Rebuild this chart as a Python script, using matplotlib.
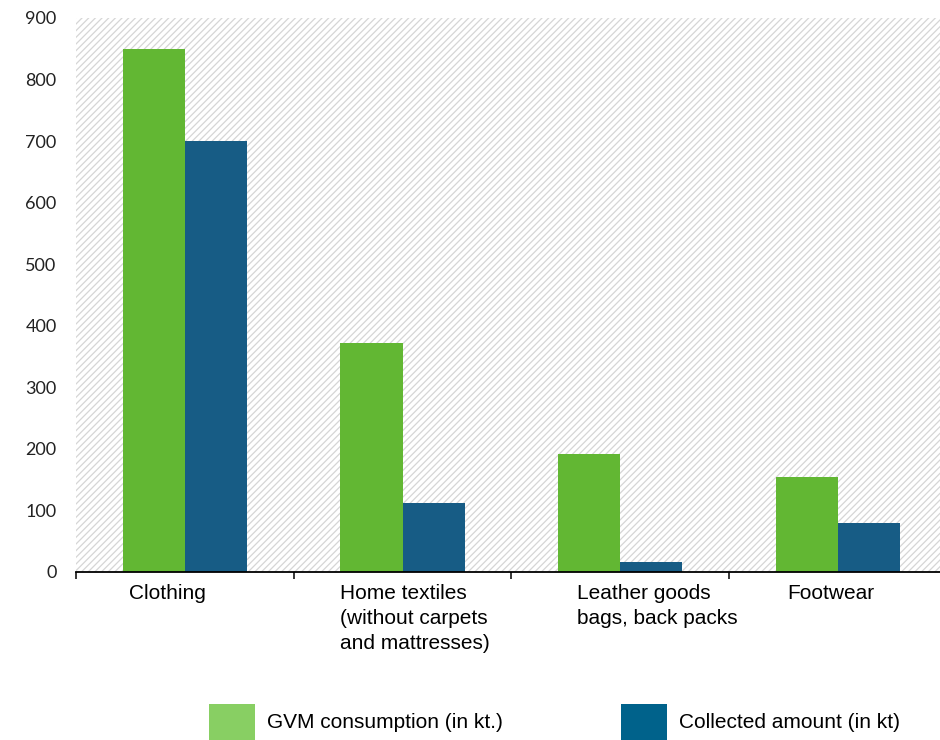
import matplotlib
matplotlib.use("Agg")
import matplotlib.pyplot as plt
from matplotlib.patches import Rectangle, Patch
import numpy as np

categories = ["Clothing",
              "Home textiles\n(without carpets\nand mattresses)",
              "Leather goods\nbags, back packs",
              "Footwear"]
gvm_consumption = [850, 372, 192, 154]
collected_amount = [700, 112, 16, 80]
series_names = ["GVM consumption (in kt.)", "Collected amount (in kt)"]
y_ticks = [0, 100, 200, 300, 400, 500, 600, 700, 800, 900]

# left edge of each category label, in data units
label_x = [-0.256, 0.714, 1.80, 2.769]

bar_green = "#62b733"
bar_blue = "#175c85"
legend_green = "#88cf63"
legend_blue = "#00628b"

plt.rcParams["hatch.linewidth"] = 0.9

fig = plt.figure(figsize=(9.4, 7.4), dpi=100)
ax = fig.add_axes([76 / 940, 1 - 572 / 740, 1 - 76 / 940, (572 - 18) / 740])

# hatched plot background
bg = Rectangle((0, 0), 1, 1, transform=ax.transAxes, facecolor="white",
               edgecolor="#d6d6d6", hatch="/////", lw=0, zorder=0)
ax.add_patch(bg)

x = np.arange(len(categories))
w = 0.285
ax.bar(x - w / 2, gvm_consumption, width=w, color=bar_green, zorder=2)
ax.bar(x + w / 2, collected_amount, width=w, color=bar_blue, zorder=2)

for s in ["top", "right", "left"]:
    ax.spines[s].set_visible(False)
ax.spines["bottom"].set_linewidth(1.3)
ax.spines["bottom"].set_color("black")
ax.spines["bottom"].set_zorder(3)

ax.set_xticks(np.arange(-0.5, 3.0, 1.0))
ax.set_xticklabels([])
ax.tick_params(axis="x", direction="out", length=5, width=1.1, color="black")

ax.set_yticks(y_ticks)
ax.set_yticklabels([str(v) for v in y_ticks], fontsize=13, family="Lato",
                   color="#222222")
ax.tick_params(axis="y", length=0, pad=14)

ax.set_xlim(-0.5, 3.469)
ax.set_ylim(0, 900)

for lx, lab in zip(label_x, categories):
    ax.text(lx, -0.022, lab, transform=ax.get_xaxis_transform(),
            ha="left", va="top", fontsize=15, family="Liberation Sans",
            linespacing=1.38, multialignment="left", color="black")

handles = [Patch(facecolor=legend_green, edgecolor="none"),
           Patch(facecolor=legend_blue, edgecolor="none")]
fig.legend(handles, series_names, loc="center left",
           bbox_to_anchor=(209 / 940, 1 - 722 / 740), ncol=2, frameon=False,
           borderpad=0, borderaxespad=0, handlelength=2.2, handleheight=2.28,
           handletextpad=0.6, columnspacing=5.65,
           prop={"family": "Liberation Sans", "size": 15})

fig.savefig("out.png", dpi=100)
